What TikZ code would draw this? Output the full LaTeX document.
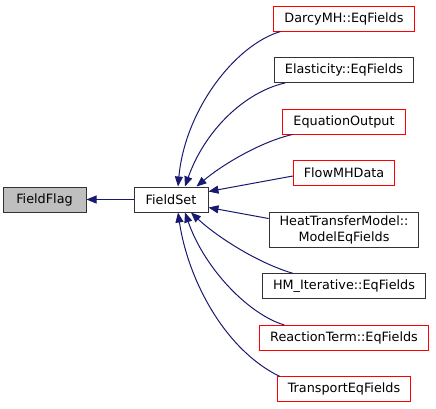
\documentclass[tikz,border=0pt]{standalone}
\usepackage{fontspec}
\setmainfont{DejaVu Sans}
\usepackage{xcolor}
\usepackage{tikz}
\usetikzlibrary{arrows.meta,positioning}

\definecolor{edgeblue}{HTML}{191970}
\definecolor{flaggray}{HTML}{BFBFBF}

\begin{document}
\begin{tikzpicture}[
  x=1pt, y=-1pt,
  >={Triangle[length=10pt,width=8pt]},
  node distance=25.5pt,
  box/.style={draw, line width=1pt, minimum height=25pt, inner xsep=10.5pt,
    inner ysep=3.5pt, font=\fontsize{12.8pt}{16pt}\selectfont, align=center},
  classbox/.style={box, draw=black!80},
  redbox/.style={box, draw=red},
  basebox/.style={box, draw=black!80, fill=flaggray},
  edge/.style={->, line width=1pt, color=edgeblue},
]
\useasboundingbox (0,0) rectangle (436,408);

% Base classes
\node[classbox, minimum width=74pt] (fieldset) at (171,199.5) {FieldSet};
\node[basebox, minimum width=83pt, left=47pt of fieldset] (fieldflag) {FieldFlag};

% Derived classes
\node[redbox] (darcy) at (344,18.5) {DarcyMH::EqFields};
\node[classbox, below=of darcy] (elast) {Elasticity::EqFields};
\node[redbox, below=of elast] (eqout) {EquationOutput};
\node[redbox, below=of eqout] (flowmh) {FlowMHData};
\node[classbox, below=of flowmh] (heat) {HeatTransferModel::\\ModelEqFields};
\node[classbox, below=of heat] (hmiter) {HM\_Iterative::EqFields};
\node[redbox, below=of hmiter] (reaction) {ReactionTerm::EqFields};
\node[redbox, below=of reaction] (transport) {TransportEqFields};

% Edges
\draw[edge] (fieldset) -- (fieldflag);
\draw[edge] ([xshift=7pt]darcy.south west) .. controls (235,45) and (185,110) .. ([xshift=7pt]fieldset.north);
\draw[edge] ([xshift=11pt]elast.south west) .. controls (245,92) and (205,130) .. ([xshift=14pt]fieldset.north);
\draw[edge] ([xshift=10pt]eqout.south west) .. controls (260,142) and (222,165) .. ([xshift=-12pt]fieldset.north east);
\draw[edge] ([yshift=-3pt]flowmh.west) -- ([yshift=8pt]fieldset.east);
\draw[edge] ([yshift=-7pt]heat.north west) -- ([yshift=-8pt]fieldset.east);
\draw[edge] ([xshift=-51pt]hmiter.north) .. controls (255,262) and (215,235) .. ([xshift=20pt]fieldset.south);
\draw[edge] ([xshift=25pt]reaction.north west) .. controls (250,315) and (205,270) .. ([xshift=14pt]fieldset.south);
\draw[edge] ([xshift=3pt]transport.north west) .. controls (225,350) and (188,280) .. ([xshift=7pt]fieldset.south);
\end{tikzpicture}
\end{document}
